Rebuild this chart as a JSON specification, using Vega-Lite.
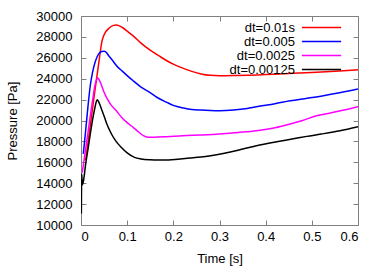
{
  "$schema": "https://vega.github.io/schema/vega-lite/v6.json",
  "width": 277,
  "height": 209,
  "autosize": {"type": "none"},
  "padding": {"left": 81, "top": 16, "right": 24, "bottom": 42},
  "background": "white",
  "config": {
    "font": "Liberation Sans",
    "view": {"stroke": "#808080", "strokeWidth": 1},
    "axis": {
      "domain": false, "grid": false, "tickColor": "#808080", "tickSize": -5,
      "labelFont": "Liberation Sans", "labelFontSize": 13, "labelColor": "black",
      "titleFont": "Liberation Sans", "titleFontSize": 13, "titleFontWeight": "normal", "titleColor": "black"
    },
    "legend": {
      "orient": "none", "legendX": 234, "legendY": 5, "padding": 0, "title": null,
      "symbolType": "M-5.6,0H5.6", "symbolSize": 49, "symbolStrokeWidth": 1.5,
      "labelFont": "Liberation Sans", "labelFontSize": 13, "labelColor": "black",
      "labelAlign": "right", "labelOffset": -33, "rowPadding": -1
    }
  },
  "data": {"values": [
    {"s": "dt=0.01s", "t": 0.01, "p": 16200},
    {"s": "dt=0.01s", "t": 0.02, "p": 19500},
    {"s": "dt=0.01s", "t": 0.03, "p": 22800},
    {"s": "dt=0.01s", "t": 0.04, "p": 26000},
    {"s": "dt=0.01s", "t": 0.045, "p": 27500},
    {"s": "dt=0.01s", "t": 0.05, "p": 28200},
    {"s": "dt=0.01s", "t": 0.06, "p": 28800},
    {"s": "dt=0.01s", "t": 0.07, "p": 29100},
    {"s": "dt=0.01s", "t": 0.077, "p": 29150},
    {"s": "dt=0.01s", "t": 0.09, "p": 28900},
    {"s": "dt=0.01s", "t": 0.1, "p": 28550},
    {"s": "dt=0.01s", "t": 0.113, "p": 28100},
    {"s": "dt=0.01s", "t": 0.13, "p": 27400},
    {"s": "dt=0.01s", "t": 0.149, "p": 26750},
    {"s": "dt=0.01s", "t": 0.17, "p": 26150},
    {"s": "dt=0.01s", "t": 0.186, "p": 25720},
    {"s": "dt=0.01s", "t": 0.2, "p": 25400},
    {"s": "dt=0.01s", "t": 0.222, "p": 24990},
    {"s": "dt=0.01s", "t": 0.24, "p": 24700},
    {"s": "dt=0.01s", "t": 0.26, "p": 24450},
    {"s": "dt=0.01s", "t": 0.28, "p": 24320},
    {"s": "dt=0.01s", "t": 0.3, "p": 24290},
    {"s": "dt=0.01s", "t": 0.33, "p": 24300},
    {"s": "dt=0.01s", "t": 0.36, "p": 24330},
    {"s": "dt=0.01s", "t": 0.4, "p": 24400},
    {"s": "dt=0.01s", "t": 0.45, "p": 24500},
    {"s": "dt=0.01s", "t": 0.5, "p": 24600},
    {"s": "dt=0.01s", "t": 0.55, "p": 24720},
    {"s": "dt=0.01s", "t": 0.6, "p": 24850},

    {"s": "dt=0.005", "t": 0.005, "p": 16800},
    {"s": "dt=0.005", "t": 0.01, "p": 19000},
    {"s": "dt=0.005", "t": 0.015, "p": 21300},
    {"s": "dt=0.005", "t": 0.02, "p": 23300},
    {"s": "dt=0.005", "t": 0.025, "p": 24600},
    {"s": "dt=0.005", "t": 0.03, "p": 25500},
    {"s": "dt=0.005", "t": 0.035, "p": 26100},
    {"s": "dt=0.005", "t": 0.04, "p": 26450},
    {"s": "dt=0.005", "t": 0.045, "p": 26600},
    {"s": "dt=0.005", "t": 0.05, "p": 26620},
    {"s": "dt=0.005", "t": 0.055, "p": 26500},
    {"s": "dt=0.005", "t": 0.06, "p": 26200},
    {"s": "dt=0.005", "t": 0.07, "p": 25650},
    {"s": "dt=0.005", "t": 0.077, "p": 25240},
    {"s": "dt=0.005", "t": 0.09, "p": 24700},
    {"s": "dt=0.005", "t": 0.1, "p": 24300},
    {"s": "dt=0.005", "t": 0.113, "p": 23800},
    {"s": "dt=0.005", "t": 0.13, "p": 23200},
    {"s": "dt=0.005", "t": 0.149, "p": 22690},
    {"s": "dt=0.005", "t": 0.165, "p": 22200},
    {"s": "dt=0.005", "t": 0.186, "p": 21730},
    {"s": "dt=0.005", "t": 0.2, "p": 21450},
    {"s": "dt=0.005", "t": 0.222, "p": 21200},
    {"s": "dt=0.005", "t": 0.24, "p": 21060},
    {"s": "dt=0.005", "t": 0.26, "p": 21000},
    {"s": "dt=0.005", "t": 0.28, "p": 20960},
    {"s": "dt=0.005", "t": 0.3, "p": 20940},
    {"s": "dt=0.005", "t": 0.33, "p": 21000},
    {"s": "dt=0.005", "t": 0.36, "p": 21150},
    {"s": "dt=0.005", "t": 0.38, "p": 21320},
    {"s": "dt=0.005", "t": 0.42, "p": 21600},
    {"s": "dt=0.005", "t": 0.453, "p": 21890},
    {"s": "dt=0.005", "t": 0.49, "p": 22130},
    {"s": "dt=0.005", "t": 0.525, "p": 22370},
    {"s": "dt=0.005", "t": 0.56, "p": 22650},
    {"s": "dt=0.005", "t": 0.6, "p": 23010},

    {"s": "dt=0.0025", "t": 0.0025, "p": 15000},
    {"s": "dt=0.0025", "t": 0.005, "p": 15700},
    {"s": "dt=0.0025", "t": 0.01, "p": 17300},
    {"s": "dt=0.0025", "t": 0.015, "p": 18800},
    {"s": "dt=0.0025", "t": 0.02, "p": 20400},
    {"s": "dt=0.0025", "t": 0.025, "p": 21900},
    {"s": "dt=0.0025", "t": 0.03, "p": 23300},
    {"s": "dt=0.0025", "t": 0.033, "p": 23800},
    {"s": "dt=0.0025", "t": 0.036, "p": 24070},
    {"s": "dt=0.0025", "t": 0.04, "p": 23850},
    {"s": "dt=0.0025", "t": 0.045, "p": 23300},
    {"s": "dt=0.0025", "t": 0.05, "p": 22700},
    {"s": "dt=0.0025", "t": 0.056, "p": 22150},
    {"s": "dt=0.0025", "t": 0.065, "p": 21500},
    {"s": "dt=0.0025", "t": 0.077, "p": 20900},
    {"s": "dt=0.0025", "t": 0.09, "p": 20200},
    {"s": "dt=0.0025", "t": 0.1, "p": 19800},
    {"s": "dt=0.0025", "t": 0.113, "p": 19340},
    {"s": "dt=0.0025", "t": 0.125, "p": 18900},
    {"s": "dt=0.0025", "t": 0.135, "p": 18550},
    {"s": "dt=0.0025", "t": 0.145, "p": 18400},
    {"s": "dt=0.0025", "t": 0.16, "p": 18400},
    {"s": "dt=0.0025", "t": 0.186, "p": 18450},
    {"s": "dt=0.0025", "t": 0.22, "p": 18550},
    {"s": "dt=0.0025", "t": 0.258, "p": 18610},
    {"s": "dt=0.0025", "t": 0.3, "p": 18700},
    {"s": "dt=0.0025", "t": 0.34, "p": 18850},
    {"s": "dt=0.0025", "t": 0.38, "p": 19020},
    {"s": "dt=0.0025", "t": 0.42, "p": 19300},
    {"s": "dt=0.0025", "t": 0.453, "p": 19660},
    {"s": "dt=0.0025", "t": 0.48, "p": 20000},
    {"s": "dt=0.0025", "t": 0.51, "p": 20460},
    {"s": "dt=0.0025", "t": 0.54, "p": 20720},
    {"s": "dt=0.0025", "t": 0.57, "p": 21000},
    {"s": "dt=0.0025", "t": 0.6, "p": 21320},

    {"s": "dt=0.00125", "t": 0.0008, "p": 11100},
    {"s": "dt=0.00125", "t": 0.0015, "p": 14900},
    {"s": "dt=0.00125", "t": 0.003, "p": 13850},
    {"s": "dt=0.00125", "t": 0.006, "p": 14400},
    {"s": "dt=0.00125", "t": 0.01, "p": 15800},
    {"s": "dt=0.00125", "t": 0.015, "p": 17200},
    {"s": "dt=0.00125", "t": 0.019, "p": 18380},
    {"s": "dt=0.00125", "t": 0.026, "p": 20300},
    {"s": "dt=0.00125", "t": 0.03, "p": 21200},
    {"s": "dt=0.00125", "t": 0.035, "p": 21990},
    {"s": "dt=0.00125", "t": 0.038, "p": 21800},
    {"s": "dt=0.00125", "t": 0.041, "p": 21500},
    {"s": "dt=0.00125", "t": 0.046, "p": 20900},
    {"s": "dt=0.00125", "t": 0.051, "p": 20300},
    {"s": "dt=0.00125", "t": 0.056, "p": 19660},
    {"s": "dt=0.00125", "t": 0.066, "p": 18710},
    {"s": "dt=0.00125", "t": 0.076, "p": 18000},
    {"s": "dt=0.00125", "t": 0.087, "p": 17430},
    {"s": "dt=0.00125", "t": 0.1, "p": 16900},
    {"s": "dt=0.00125", "t": 0.116, "p": 16470},
    {"s": "dt=0.00125", "t": 0.13, "p": 16320},
    {"s": "dt=0.00125", "t": 0.15, "p": 16240},
    {"s": "dt=0.00125", "t": 0.167, "p": 16220},
    {"s": "dt=0.00125", "t": 0.19, "p": 16230},
    {"s": "dt=0.00125", "t": 0.21, "p": 16300},
    {"s": "dt=0.00125", "t": 0.236, "p": 16400},
    {"s": "dt=0.00125", "t": 0.26, "p": 16500},
    {"s": "dt=0.00125", "t": 0.308, "p": 16850},
    {"s": "dt=0.00125", "t": 0.34, "p": 17150},
    {"s": "dt=0.00125", "t": 0.38, "p": 17590},
    {"s": "dt=0.00125", "t": 0.424, "p": 17970},
    {"s": "dt=0.00125", "t": 0.46, "p": 18250},
    {"s": "dt=0.00125", "t": 0.489, "p": 18480},
    {"s": "dt=0.00125", "t": 0.52, "p": 18700},
    {"s": "dt=0.00125", "t": 0.561, "p": 19020},
    {"s": "dt=0.00125", "t": 0.6, "p": 19410}
  ]},
  "layer": [
    {
      "mark": {"type": "line", "strokeWidth": 1.5, "interpolate": "monotone", "clip": true},
      "encoding": {
        "x": {"field": "t", "type": "quantitative", "scale": {"domain": [0, 0.6], "nice": false},
              "axis": {"orient": "bottom", "title": "Time [s]", "values": [0, 0.1, 0.2, 0.3, 0.4, 0.5, 0.6], "format": "~g", "labelPadding": 10, "titleY": 33, "titleBaseline": "middle"}},
        "y": {"field": "p", "type": "quantitative", "scale": {"domain": [10000, 30000], "nice": false, "zero": false},
              "axis": {"orient": "left", "title": "Pressure [Pa]", "values": [10000, 12000, 14000, 16000, 18000, 20000, 22000, 24000, 26000, 28000, 30000], "format": "d", "labelPadding": 14, "titleX": -69, "titleY": 104.5, "titleBaseline": "middle", "titleAlign": "center"}},
        "color": {"field": "s", "type": "nominal", "sort": null,
                  "scale": {"domain": ["dt=0.01s", "dt=0.005", "dt=0.0025", "dt=0.00125"], "range": ["#ff0000", "#0000ff", "#ff00ff", "#000000"]}}
      }
    },
    {
      "mark": {"type": "point", "opacity": 0},
      "encoding": {
        "x": {"field": "t", "type": "quantitative", "axis": {"orient": "top", "labels": false, "title": null, "values": [0, 0.1, 0.2, 0.3, 0.4, 0.5, 0.6]}},
        "y": {"field": "p", "type": "quantitative", "axis": {"orient": "right", "labels": false, "title": null, "values": [10000, 12000, 14000, 16000, 18000, 20000, 22000, 24000, 26000, 28000, 30000]}}
      }
    }
  ]
}
